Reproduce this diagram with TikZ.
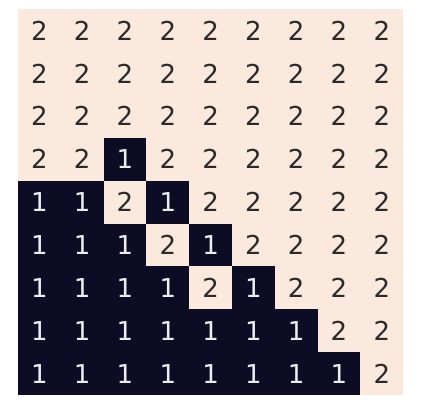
\documentclass[tikz,border=0pt]{standalone}
\usepackage{fontspec}
\setmainfont{DejaVu Sans}
\definecolor{peach}{HTML}{FAE9DC}
\definecolor{navy}{HTML}{0C0D24}
\definecolor{darktext}{HTML}{2A2A2A}
\definecolor{lighttext}{HTML}{EEEEEE}
\begin{document}
\begin{tikzpicture}[x=1pt,y=-1pt,
  cellbase/.style={rectangle,minimum width=42.9pt,minimum height=42.9pt,inner sep=0pt,outer sep=0pt,font=\fontsize{26}{26}\selectfont},
  cell1/.style={cellbase,fill=navy,text=lighttext},
  cell2/.style={cellbase,fill=peach,text=darktext}]
\useasboundingbox (0,0) rectangle (422,418);
\fill[white] (0,0) rectangle (422,418);
\foreach \row [count=\r from 0] in {
  {2,2,2,2,2,2,2,2,2},
  {2,2,2,2,2,2,2,2,2},
  {2,2,2,2,2,2,2,2,2},
  {2,2,1,2,2,2,2,2,2},
  {1,1,2,1,2,2,2,2,2},
  {1,1,1,2,1,2,2,2,2},
  {1,1,1,1,2,1,2,2,2},
  {1,1,1,1,1,1,1,2,2},
  {1,1,1,1,1,1,1,1,2}}{
  \foreach \v [count=\c from 0] in \row {
    \node[cell\v] (c-\r-\c) at ({18+42.8*(\c+0.5)},{9+42.9*(\r+0.5)}) {\v};
  }
}
\end{tikzpicture}
\end{document}
